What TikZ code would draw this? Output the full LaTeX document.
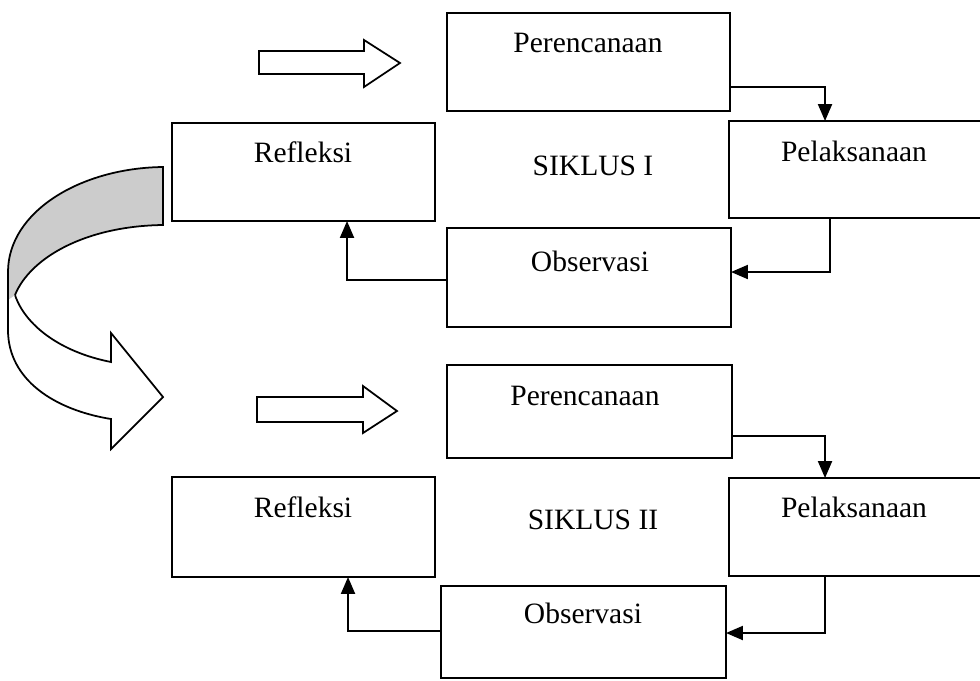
\documentclass[tikz,border=0pt]{standalone}
\usepackage{fontspec}
\setmainfont{Liberation Serif}
\usetikzlibrary{arrows.meta,calc}
\begin{document}
\begin{tikzpicture}[x=0.02cm,y=-0.02cm,
  box/.style={draw,line width=1pt,rectangle,inner sep=0pt,outer sep=0pt,fill=white},
  lbl/.style={anchor=base,inner sep=0pt,font=\fontsize{16.8}{20}\selectfont},
  arr/.style={line width=1.2pt,-{Triangle[length=0.34cm,width=0.28cm]}},
  blk/.style={draw,line width=1pt,fill=white,line join=miter}]
\useasboundingbox (0,0) rectangle (980,680);
% ---------- SIKLUS I ----------
\node[box,minimum width=5.66cm,minimum height=1.96cm] (p1) at (588.5,62) {};
\node[box,minimum width=5.32cm,minimum height=1.94cm] (l1) at (862,169.5) {};
\node[box,minimum width=5.26cm,minimum height=1.96cm] (r1) at (303.5,172) {};
\node[box,minimum width=5.68cm,minimum height=1.98cm] (o1) at (589,277.5) {};
\node[lbl] (p1t) at (588,52) {Perencanaan};
\node[lbl] (l1t) at (854,161) {Pelaksanaan};
\node[lbl] (r1t) at (303,162) {Refleksi};
\node[lbl] (o1t) at (590,271) {Observasi};
\node[lbl] (s1) at (593,175) {SIKLUS I};
\draw[arr] ($(p1.north east)+(0,74)$) -| ($(l1.north west)+(96,0)$);
\draw[arr] ($(l1.south west)+(101,0)$) |- ($(o1.north east)+(0,44)$);
\draw[arr] ($(o1.north west)+(0,52)$) -| ($(r1.south west)+(175,0)$);
\draw[blk] (259,51) -- (364,51) -- (364,40) -- (400,63) -- (364,87) -- (364,74) -- (259,74) -- cycle;
% ---------- SIKLUS II ----------
\node[box,minimum width=5.70cm,minimum height=1.86cm] (p2) at (589.5,411.5) {};
\node[box,minimum width=5.32cm,minimum height=1.96cm] (l2) at (862,527) {};
\node[box,minimum width=5.26cm,minimum height=2.0cm] (r2) at (303.5,527) {};
\node[box,minimum width=5.70cm,minimum height=1.84cm] (o2) at (583.5,632) {};
\node[lbl] (p2t) at (585,405) {Perencanaan};
\node[lbl] (l2t) at (854,517) {Pelaksanaan};
\node[lbl] (r2t) at (303,517) {Refleksi};
\node[lbl] (o2t) at (583,623) {Observasi};
\node[lbl] (s2) at (593,529) {SIKLUS II};
\draw[arr] ($(p2.north east)+(0,71)$) -| ($(l2.north west)+(96,0)$);
\draw[arr] ($(l2.south west)+(96,0)$) |- ($(o2.north east)+(0,47)$);
\draw[arr] ($(o2.north west)+(0,45)$) -| ($(r2.south west)+(176,0)$);
\draw[blk] (257,397) -- (363,397) -- (363,386) -- (397,411) -- (363,433) -- (363,422) -- (257,422) -- cycle;
% ---------- curved arrow ----------
\draw[blk] (8,272) -- (8,330) .. controls (8,380) and (55,410) .. (111,419)
  -- (111,449) -- (163,397) -- (111,333) -- (111,362)
  .. controls (60,352) and (25,325) .. (15,295);
\fill[gray!40] (163,167) .. controls (80,168) and (8,212) .. (8,272) -- (8,300) -- (15,295)
  .. controls (30,258) and (85,226) .. (163,225) -- cycle;
\draw[line width=1pt,line join=miter] (8,300) -- (8,272) .. controls (8,212) and (80,168) .. (163,167) -- (163,225)
  .. controls (85,226) and (30,258) .. (15,295);
\end{tikzpicture}
\end{document}
